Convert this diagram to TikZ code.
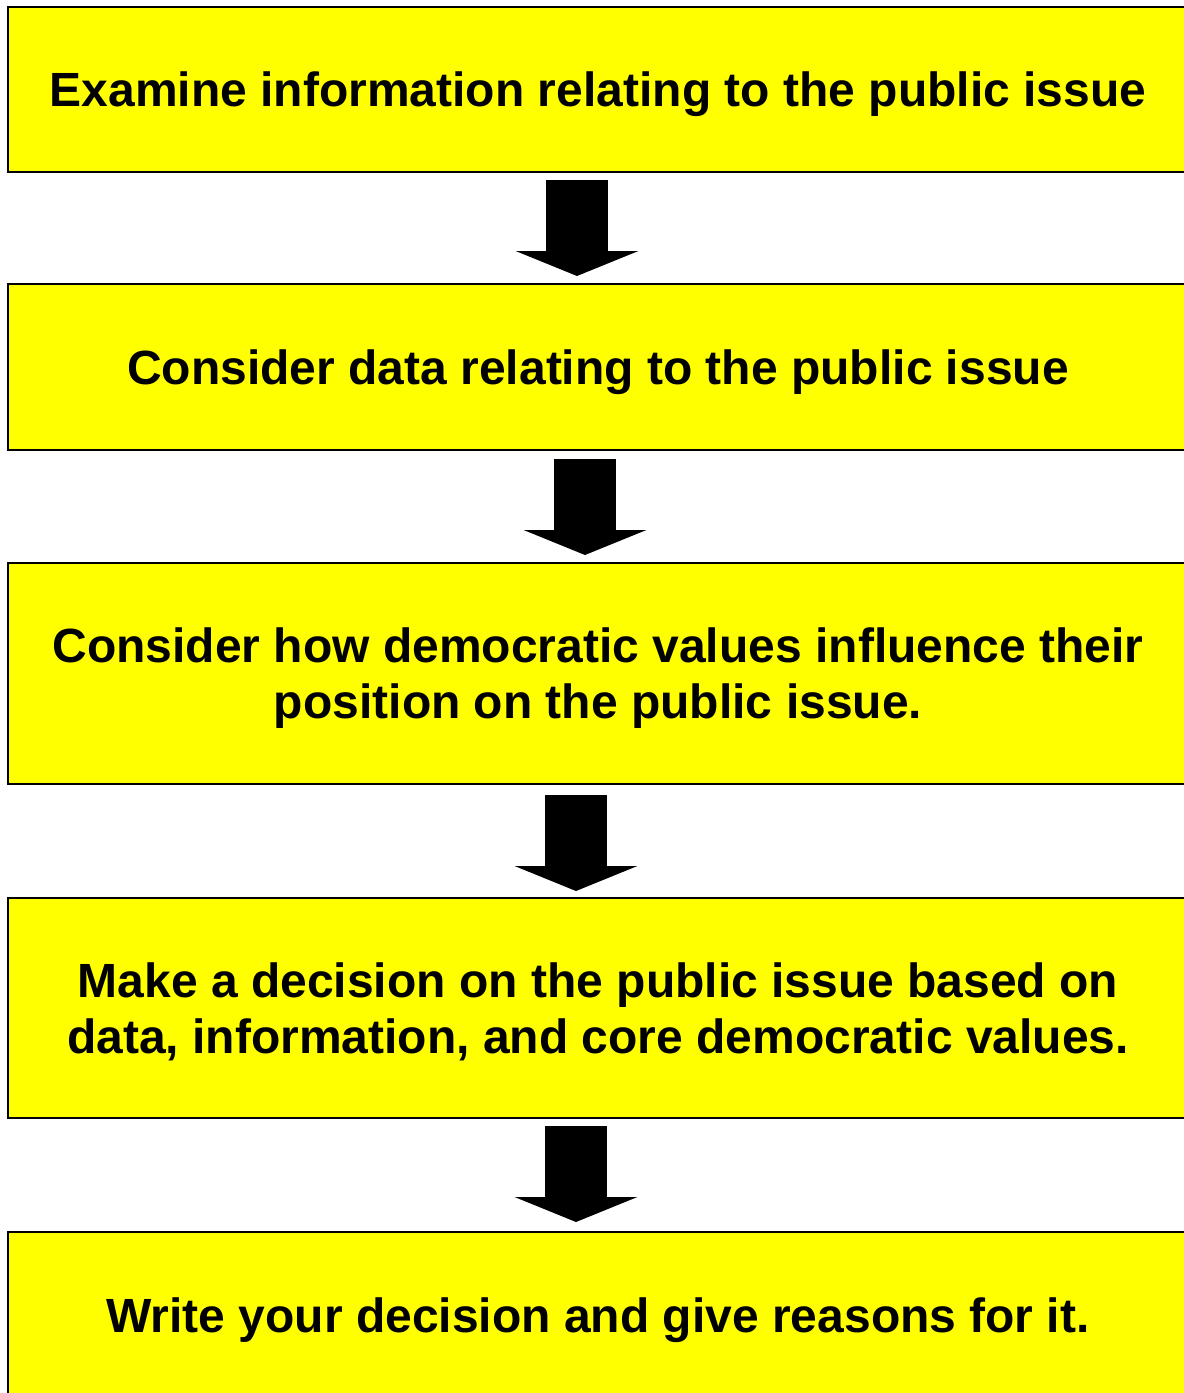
\documentclass[tikz,border=0pt]{standalone}
\usepackage{fontspec}
\setmainfont{Liberation Sans}
\usetikzlibrary{arrows.meta}
\definecolor{boxyellow}{RGB}{255,255,0}

\begin{document}
\begin{tikzpicture}[x=0.5pt,y=-0.5pt,
    stepbox/.style={draw=black,line width=1pt,fill=boxyellow,minimum width=590pt,
      inner sep=0pt,align=center,font=\fontsize{24}{28}\selectfont\bfseries,
      text height=17.2pt,text depth=0pt},
    twolines/.style={text height=45.2pt},
    blockarrow/.style={line width=31pt,black,-{Triangle[width=61pt,length=12.5pt]}}]
    \useasboundingbox (0,0) rectangle (1184,1393);

    \node[stepbox,minimum height=82.5pt] (examine) at (598,89.5) {Examine information relating to the public issue};
    \node[stepbox,minimum height=83pt] (data) at (598,367) {Consider data relating to the public issue};
    \node[stepbox,twolines,minimum height=110.5pt] (values) at (598,673.5) {Consider how democratic values influence their\\position on the public issue.};
    \node[stepbox,twolines,minimum height=110pt] (decide) at (598,1008) {Make a decision on the public issue based on\\data, information, and core democratic values.};
    \node[stepbox,minimum height=83pt] (write) at (598,1315) {Write your decision and give reasons for it.};

    \draw[blockarrow] ([xshift=-10.5pt,yshift=-3.5pt]examine.south) -- ([xshift=-10.5pt,yshift=3.5pt]data.north);
    \draw[blockarrow] ([xshift=-6.5pt,yshift=-4pt]data.south) -- ([xshift=-6.5pt,yshift=3.5pt]values.north);
    \draw[blockarrow] ([xshift=-11pt,yshift=-5pt]values.south) -- ([xshift=-11pt,yshift=3pt]decide.north);
    \draw[blockarrow] ([xshift=-11pt,yshift=-3.5pt]decide.south) -- ([xshift=-11pt,yshift=4.5pt]write.north);
\end{tikzpicture}
\end{document}
